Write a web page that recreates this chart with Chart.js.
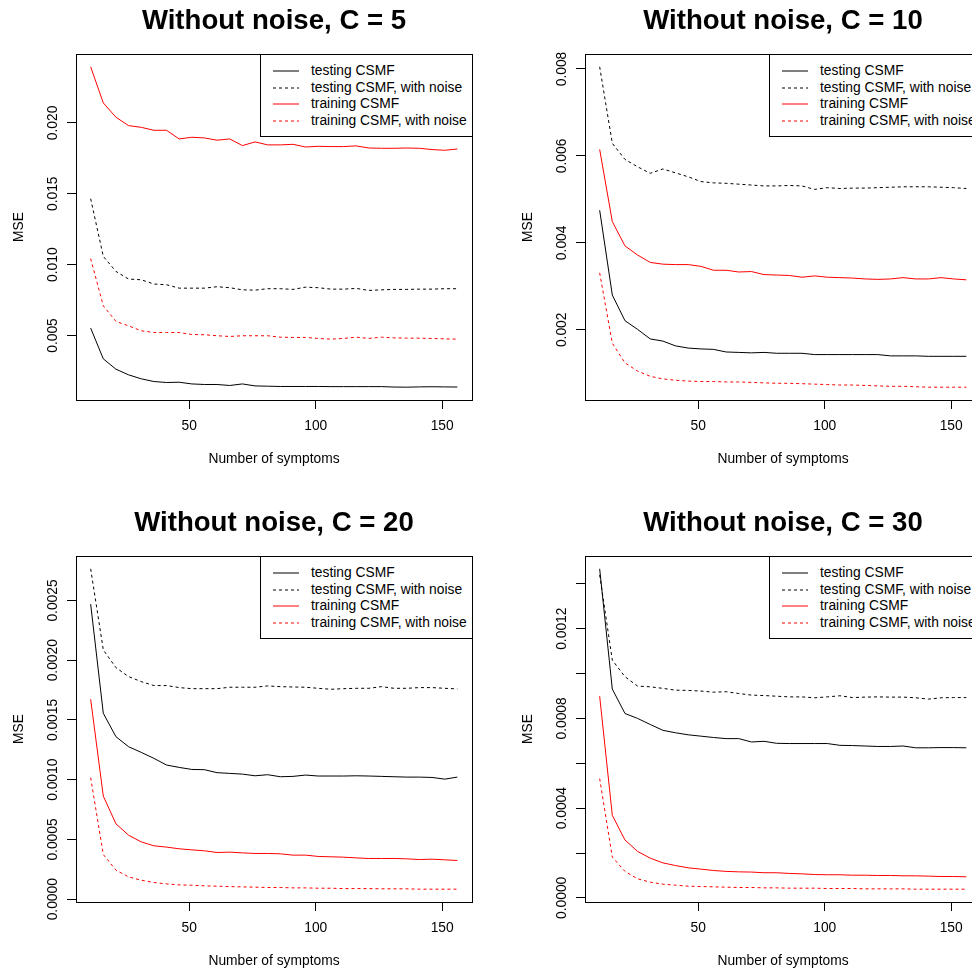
<!DOCTYPE html>
<html>
<head>
<meta charset="utf-8">
<title>MSE vs number of symptoms</title>
<script src="https://cdn.jsdelivr.net/npm/chart.js@4.4.1/dist/chart.umd.min.js"></script>
<style>
  html, body { margin: 0; padding: 0; background: #fff; overflow: hidden; }
  #page { position: relative; width: 972px; height: 972px; overflow: hidden; background: #fff; }
  .panel { position: absolute; width: 486px; height: 486px; }
  .panel canvas { position: absolute; left: 0; top: 0; }
  .legend {
    position: absolute; left: 260px; top: 54px; width: 211px; height: 81px;
    border: 1px solid #000; background: #fff;
    font: 13.8px "Liberation Sans", Arial, sans-serif; color: #000;
  }
  .legend .row { position: absolute; left: 0; width: 400px; height: 16px; line-height: 16px; white-space: nowrap; }
  .legend svg { position: absolute; left: 12px; top: 7px; }
  .legend .txt { position: absolute; left: 50px; top: 0; }
</style>
</head>
<body>
<div id="page"></div>
<script>
// number of symptoms (x)
const xs = [11, 16, 21, 26, 31, 36, 41, 46, 51, 56, 61, 66, 71, 76, 81,
            86, 91, 96, 101, 106, 111, 116, 121, 126, 131, 136, 141, 146, 151, 156];
const xTicks = [50, 100, 150];

const seriesNames = ['testing CSMF', 'testing CSMF, with noise', 'training CSMF', 'training CSMF, with noise'];

// C = 5
const test5 = [0.00552, 0.00335, 0.00262, 0.00222, 0.00194, 0.00175, 0.00168, 0.00170, 0.00158, 0.00154,
               0.00154, 0.00147, 0.00158, 0.00144, 0.00142, 0.00140, 0.00140, 0.00140, 0.00140, 0.00139,
               0.00139, 0.00139, 0.00139, 0.00139, 0.00136, 0.00135, 0.00137, 0.00138, 0.00137, 0.00136];
const testNoise5 = [0.01465, 0.01058, 0.00952, 0.00898, 0.00893, 0.00863, 0.00858, 0.00834, 0.00834, 0.00834,
                    0.00844, 0.00837, 0.00822, 0.00820, 0.00830, 0.00830, 0.00825, 0.00841, 0.00837, 0.00827,
                    0.00827, 0.00832, 0.00818, 0.00822, 0.00825, 0.00825, 0.00827, 0.00827, 0.00830, 0.00830];
const train5 = [0.02396, 0.02141, 0.02040, 0.01981, 0.01969, 0.01948, 0.01948, 0.01887, 0.01899, 0.01894,
                0.01878, 0.01887, 0.01840, 0.01866, 0.01845, 0.01845, 0.01849, 0.01830, 0.01835, 0.01833,
                0.01833, 0.01838, 0.01823, 0.01821, 0.01821, 0.01823, 0.01821, 0.01812, 0.01807, 0.01816];
const trainNoise5 = [0.01042, 0.00709, 0.00599, 0.00568, 0.00533, 0.00521, 0.00521, 0.00521, 0.00507, 0.00505,
                     0.00498, 0.00493, 0.00498, 0.00498, 0.00498, 0.00488, 0.00486, 0.00486, 0.00479, 0.00474,
                     0.00479, 0.00488, 0.00479, 0.00488, 0.00483, 0.00481, 0.00481, 0.00479, 0.00476, 0.00474];
const yTicks5 = [0.005, 0.010, 0.015, 0.020];
const yLabels5 = ['0.005', '0.010', '0.015', '0.020'];

// C = 10
const test10 = [0.00475, 0.00280, 0.00221, 0.00201, 0.00179, 0.00174, 0.00163, 0.00158, 0.00156, 0.00155,
                0.00149, 0.00148, 0.00147, 0.00148, 0.00146, 0.00146, 0.00146, 0.00143, 0.00143, 0.00143,
                0.00143, 0.00143, 0.00143, 0.00140, 0.00140, 0.00140, 0.00139, 0.00139, 0.00139, 0.00139];
const testNoise10 = [0.00805, 0.00629, 0.00592, 0.00575, 0.00560, 0.00570, 0.00561, 0.00552, 0.00541, 0.00538,
                     0.00537, 0.00535, 0.00533, 0.00531, 0.00531, 0.00532, 0.00531, 0.00523, 0.00527, 0.00525,
                     0.00526, 0.00526, 0.00527, 0.00528, 0.00529, 0.00529, 0.00529, 0.00528, 0.00527, 0.00525];
const train10 = [0.00615, 0.00449, 0.00393, 0.00372, 0.00355, 0.00351, 0.00350, 0.00350, 0.00346, 0.00337,
                 0.00337, 0.00333, 0.00334, 0.00327, 0.00326, 0.00325, 0.00321, 0.00324, 0.00321, 0.00320,
                 0.00319, 0.00317, 0.00316, 0.00317, 0.00320, 0.00317, 0.00317, 0.00320, 0.00317, 0.00315];
const trainNoise10 = [0.00331, 0.00169, 0.00124, 0.00105, 0.00093, 0.00087, 0.00084, 0.00082, 0.00081, 0.00081,
                      0.00080, 0.00080, 0.00079, 0.00078, 0.00077, 0.00077, 0.00076, 0.00075, 0.00074, 0.00073,
                      0.00073, 0.00072, 0.00071, 0.00070, 0.00070, 0.00069, 0.00068, 0.00068, 0.00068, 0.00068];
const yTicks10 = [0.002, 0.004, 0.006, 0.008];
const yLabels10 = ['0.002', '0.004', '0.006', '0.008'];

// C = 20
const test20 = [0.002469, 0.001556, 0.001360, 0.001276, 0.001229, 0.001179, 0.001123, 0.001103, 0.001086, 0.001084,
                0.001059, 0.001053, 0.001047, 0.001033, 0.001042, 0.001025, 0.001028, 0.001039, 0.001031, 0.001031,
                0.001031, 0.001033, 0.001031, 0.001028, 0.001025, 0.001022, 0.001022, 0.001019, 0.001005, 0.001022];
const testNoise20 = [0.002765, 0.002086, 0.001938, 0.001863, 0.001821, 0.001788, 0.001788, 0.001771, 0.001762, 0.001762,
                     0.001762, 0.001774, 0.001774, 0.001774, 0.001785, 0.001779, 0.001776, 0.001774, 0.001765, 0.001757,
                     0.001762, 0.001765, 0.001765, 0.001779, 0.001765, 0.001765, 0.001771, 0.001771, 0.001765, 0.001760];
const train20 = [0.001673, 0.000863, 0.000631, 0.000536, 0.000480, 0.000447, 0.000436, 0.000422, 0.000413, 0.000405,
                 0.000391, 0.000394, 0.000388, 0.000383, 0.000383, 0.000380, 0.000369, 0.000369, 0.000358, 0.000355,
                 0.000352, 0.000346, 0.000341, 0.000341, 0.000341, 0.000338, 0.000332, 0.000335, 0.000330, 0.000324];
const trainNoise20 = [0.001017, 0.000374, 0.000243, 0.000187, 0.000159, 0.000140, 0.000128, 0.000120, 0.000117, 0.000112,
                      0.000109, 0.000106, 0.000103, 0.000101, 0.000098, 0.000098, 0.000095, 0.000095, 0.000092, 0.000092,
                      0.000089, 0.000089, 0.000089, 0.000087, 0.000087, 0.000087, 0.000084, 0.000084, 0.000084, 0.000084];
const yTicks20 = [0, 0.0005, 0.0010, 0.0015, 0.0020, 0.0025];
const yLabels20 = ['0.0000', '0.0005', '0.0010', '0.0015', '0.0020', '0.0025'];

// C = 30
const test30 = [0.001467, 0.000931, 0.000822, 0.000800, 0.000773, 0.000747, 0.000736, 0.000727, 0.000721, 0.000715,
                0.000710, 0.000710, 0.000695, 0.000698, 0.000689, 0.000688, 0.000688, 0.000688, 0.000688, 0.000680,
                0.000679, 0.000677, 0.000675, 0.000675, 0.000677, 0.000669, 0.000669, 0.000670, 0.000670, 0.000669];
const testNoise30 = [0.001440, 0.001060, 0.000986, 0.000944, 0.000941, 0.000934, 0.000926, 0.000925, 0.000922, 0.000917,
                     0.000919, 0.000911, 0.000904, 0.000902, 0.000899, 0.000896, 0.000896, 0.000892, 0.000896, 0.000901,
                     0.000893, 0.000895, 0.000896, 0.000895, 0.000895, 0.000892, 0.000886, 0.000892, 0.000893, 0.000893];
const train30 = [0.000899, 0.000368, 0.000258, 0.000207, 0.000177, 0.000156, 0.000144, 0.000134, 0.000128, 0.000122,
                 0.000118, 0.000116, 0.000115, 0.000112, 0.000112, 0.000109, 0.000107, 0.000104, 0.000103, 0.000103,
                 0.000101, 0.000101, 0.0000998, 0.0000998, 0.0000983, 0.0000983, 0.0000968, 0.0000953, 0.0000953, 0.0000938];
const trainNoise30 = [0.000532, 0.000182, 0.000118, 0.0000849, 0.0000700, 0.0000610, 0.0000566, 0.0000521, 0.0000506, 0.0000491,
                      0.0000476, 0.0000462, 0.0000462, 0.0000447, 0.0000447, 0.0000432, 0.0000432, 0.0000432, 0.0000417, 0.0000417,
                      0.0000417, 0.0000402, 0.0000402, 0.0000402, 0.0000402, 0.0000387, 0.0000387, 0.0000387, 0.0000387, 0.0000387];
const yTicks30 = [0, 0.0002, 0.0004, 0.0006, 0.0008, 0.0010, 0.0012, 0.0014];
const yLabels30 = ['0.0000', '', '0.0004', '', '0.0008', '', '0.0012', ''];

const FONT = '"Liberation Sans", Arial, Helvetica, sans-serif';
const TXT = 13.8;
Chart.defaults.font.family = FONT;
Chart.defaults.color = '#000';

const lineStyles = [
  { color: '#000000', dash: [] },
  { color: '#000000', dash: [3, 3] },
  { color: '#FF0000', dash: [] },
  { color: '#FF0000', dash: [3, 3] }
];

const panels = [
  { title: 'Without noise, C = 5',  left: 0,   top: 0,   series: [test5, testNoise5, train5, trainNoise5],     yTicks: yTicks5,  yLabels: yLabels5 },
  { title: 'Without noise, C = 10', left: 509, top: 0,   series: [test10, testNoise10, train10, trainNoise10], yTicks: yTicks10, yLabels: yLabels10 },
  { title: 'Without noise, C = 20', left: 0,   top: 502, series: [test20, testNoise20, train20, trainNoise20], yTicks: yTicks20, yLabels: yLabels20 },
  { title: 'Without noise, C = 30', left: 509, top: 502, series: [test30, testNoise30, train30, trainNoise30], yTicks: yTicks30, yLabels: yLabels30 }
];

// R-style box around the plot region
const framePlugin = {
  id: 'frame',
  afterDatasetsDraw(chart) {
    const { ctx, chartArea: a } = chart;
    ctx.save();
    ctx.strokeStyle = '#000';
    ctx.lineWidth = 1;
    ctx.strokeRect(Math.round(a.left) + 0.5, Math.round(a.top) + 0.5,
                   Math.round(a.right - a.left), Math.round(a.bottom - a.top));
    ctx.restore();
  }
};

const meas = document.createElement('canvas').getContext('2d');
meas.font = TXT + 'px ' + FONT;

const page = document.getElementById('page');
const SVGNS = 'http://www.w3.org/2000/svg';

panels.forEach(p => {
  const div = document.createElement('div');
  div.className = 'panel';
  div.style.left = p.left + 'px';
  div.style.top = p.top + 'px';
  const canvas = document.createElement('canvas');
  canvas.width = 486;
  canvas.height = 486;
  div.appendChild(canvas);
  page.appendChild(div);

  // R default: 4% extension of the data range
  const all = [].concat(...p.series);
  const lo = Math.min(...all), hi = Math.max(...all);
  const yPad = (hi - lo) * 0.04;
  const xPad = (xs[xs.length - 1] - xs[0]) * 0.04;

  const widest = Math.max(...p.yLabels.map(l => meas.measureText(l).width));
  const yTickPad = 14 - widest / 2;

  new Chart(canvas, {
    type: 'line',
    data: {
      datasets: p.series.map((arr, k) => ({
        label: seriesNames[k],
        data: xs.map((x, i) => ({ x: x, y: arr[i] })),
        borderColor: lineStyles[k].color,
        borderDash: lineStyles[k].dash,
        borderWidth: 1,
        pointRadius: 0,
        tension: 0,
        fill: false
      }))
    },
    options: {
      responsive: false,
      animation: false,
      devicePixelRatio: 1,
      layout: { padding: { left: 0, right: 14, top: 0, bottom: 0 } },
      plugins: {
        legend: { display: false },
        tooltip: { enabled: false },
        title: {
          display: true,
          text: p.title,
          fullSize: false,
          color: '#000',
          font: { size: 27.6, weight: 'bold', lineHeight: 1 },
          padding: { top: 8, bottom: 18.4 }
        }
      },
      scales: {
        x: {
          type: 'linear',
          min: xs[0] - xPad,
          max: xs[xs.length - 1] + xPad,
          afterBuildTicks: s => { s.ticks = xTicks.map(v => ({ value: v })); },
          afterFit: s => { s.height = 86; },
          ticks: { autoSkip: false, maxRotation: 0, padding: 9, font: { size: TXT }, color: '#000',
                   callback: v => String(v) },
          grid: { drawOnChartArea: false, drawTicks: true, tickLength: 9, color: '#000' },
          border: { display: true, color: '#000' },
          title: { display: true, text: 'Number of symptoms', color: '#000', font: { size: TXT },
                   padding: { top: 0, bottom: 18.4 } }
        },
        y: {
          type: 'linear',
          min: lo - yPad,
          max: hi + yPad,
          afterBuildTicks: s => { s.ticks = p.yTicks.map(v => ({ value: v })); },
          afterFit: s => { s.width = 76; },
          ticks: { autoSkip: false, minRotation: 90, maxRotation: 90, crossAlign: 'center',
                   padding: yTickPad, font: { size: TXT }, color: '#000',
                   callback: (v, i) => p.yLabels[i] },
          grid: { drawOnChartArea: false, drawTicks: true, tickLength: 9, color: '#000' },
          border: { display: true, color: '#000' },
          title: { display: true, text: 'MSE', color: '#000', font: { size: TXT },
                   padding: { top: 10.7, bottom: 0 } }
        }
      }
    },
    plugins: [framePlugin]
  });

  // legend box in the top-right corner of the plot region
  const leg = document.createElement('div');
  leg.className = 'legend';
  seriesNames.forEach((name, k) => {
    const row = document.createElement('div');
    row.className = 'row';
    row.style.top = (8 + k * 16.7) + 'px';
    const svg = document.createElementNS(SVGNS, 'svg');
    svg.setAttribute('width', '26');
    svg.setAttribute('height', '2');
    const ln = document.createElementNS(SVGNS, 'line');
    ln.setAttribute('x1', '0');
    ln.setAttribute('x2', '26');
    ln.setAttribute('y1', '1');
    ln.setAttribute('y2', '1');
    ln.setAttribute('stroke', lineStyles[k].color);
    ln.setAttribute('stroke-width', '1');
    if (lineStyles[k].dash.length) ln.setAttribute('stroke-dasharray', lineStyles[k].dash.join(' '));
    svg.appendChild(ln);
    const t = document.createElement('span');
    t.className = 'txt';
    t.textContent = name;
    row.appendChild(svg);
    row.appendChild(t);
    leg.appendChild(row);
  });
  div.appendChild(leg);
});
</script>
</body>
</html>
